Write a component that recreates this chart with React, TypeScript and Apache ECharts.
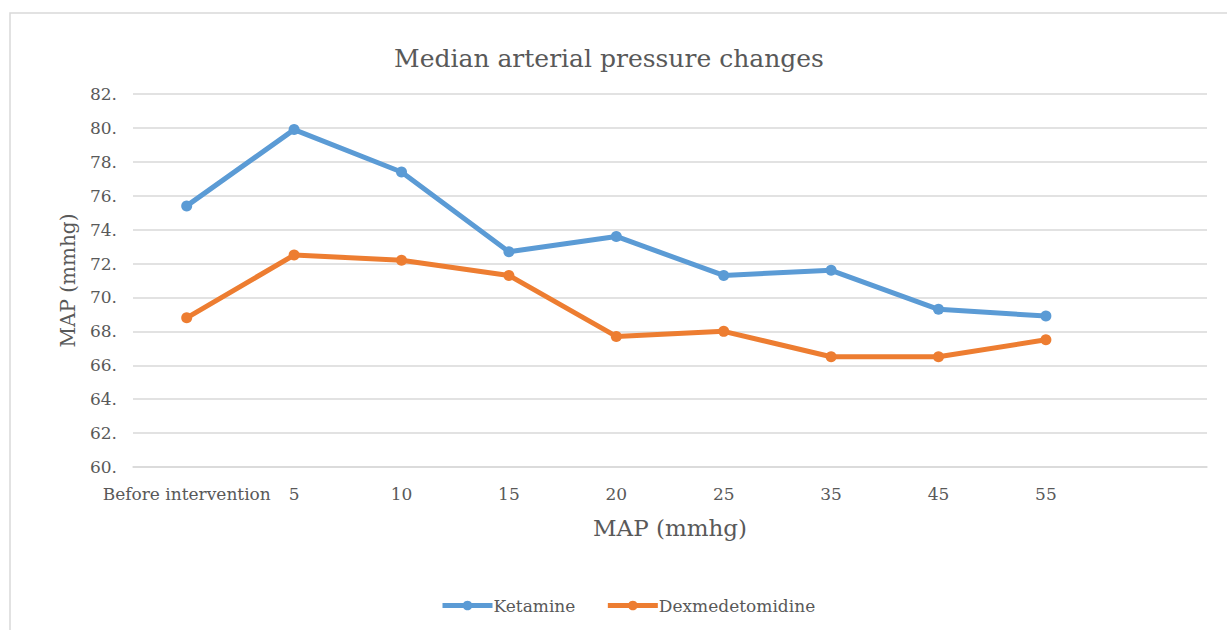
import React, { useEffect, useRef } from "react";
import * as echarts from "echarts";

const categories = ["Before intervention", "5", "10", "15", "20", "25", "35", "45", "55", ""];
const ketamine = [75.4, 79.9, 77.4, 72.7, 73.6, 71.3, 71.6, 69.3, 68.9, null];
const dexmedetomidine = [68.8, 72.5, 72.2, 71.3, 67.7, 68.0, 66.5, 66.5, 67.5, null];

const FONT = "DejaVu Serif";
const TXT = "#595959";

export default function App() {
  const ref = useRef<HTMLDivElement>(null);
  useEffect(() => {
    const chart = echarts.init(ref.current!, null, { renderer: "svg" });
    chart.setOption({
      animation: false,
      backgroundColor: "#ffffff",
      textStyle: { fontFamily: FONT },
      graphic: [
        {
          type: "rect",
          shape: { x: 10, y: 13, width: 1400, height: 800 },
          style: { fill: "none", stroke: "#d9d9d9", lineWidth: 1.5 },
          silent: true,
          z: -1,
        },
      ],
      title: {
        text: "Median arterial pressure changes",
        left: 604,
        textAlign: "center",
        top: 41,
        textStyle: { fontFamily: FONT, fontSize: 25, fontWeight: "normal", color: TXT },
      },
      legend: {
        left: 435,
        top: 592,
        itemWidth: 50,
        itemHeight: 12,
        itemGap: 30,
        lineStyle: { width: 5 },
        textStyle: { fontFamily: FONT, fontSize: 17, color: TXT, padding: [0, 0, 0, -4] },
        data: ["Ketamine", "Dexmedetomidine"],
      },
      grid: { left: 133, right: 20, top: 94, bottom: 163 },
      xAxis: {
        type: "category",
        data: categories,
        boundaryGap: true,
        name: "MAP (mmhg)",
        nameLocation: "middle",
        nameGap: 49,
        nameTextStyle: { fontFamily: FONT, fontSize: 23, color: TXT },
        axisLine: { show: true, lineStyle: { color: "#d9d9d9", width: 1.5 } },
        axisTick: { show: false },
        axisLabel: { fontFamily: FONT, fontSize: 17, color: TXT, margin: 18, interval: 0 },
      },
      yAxis: {
        type: "value",
        min: 60,
        max: 82,
        interval: 2,
        name: "MAP (mmhg)",
        nameLocation: "middle",
        nameGap: 55,
        nameTextStyle: { fontFamily: FONT, fontSize: 20, color: TXT },
        axisLine: { show: false },
        axisTick: { show: false },
        axisLabel: { fontFamily: FONT, fontSize: 17, color: TXT, margin: 16, formatter: (v: number) => `${v}.` },
        splitLine: { lineStyle: { color: "#d9d9d9", width: 1.5 } },
      },
      series: [
        {
          name: "Ketamine",
          type: "line",
          data: ketamine,
          symbol: "circle",
          symbolSize: 11,
          lineStyle: { width: 5, color: "#5b9bd5" },
          itemStyle: { color: "#5b9bd5" },
        },
        {
          name: "Dexmedetomidine",
          type: "line",
          data: dexmedetomidine,
          symbol: "circle",
          symbolSize: 11,
          lineStyle: { width: 5, color: "#ed7d31" },
          itemStyle: { color: "#ed7d31" },
        },
      ],
    });
    return () => chart.dispose();
  }, []);
  return <div ref={ref} style={{ position: "fixed", left: 0, top: 0, width: 1227, height: 630 }} />;
}
